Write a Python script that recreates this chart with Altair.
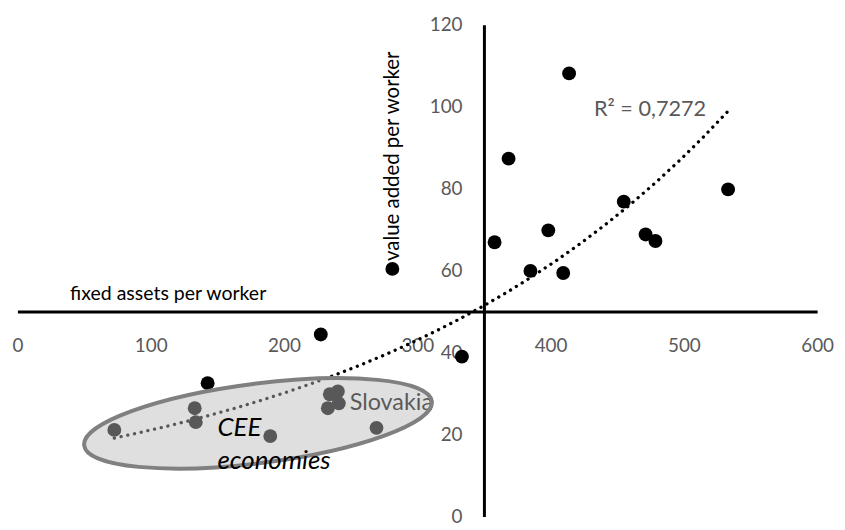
import altair as alt
import pandas as pd

# ---- data ----
# fixed assets per worker (x) and value added per worker (y)
x_vals = [72.7, 133.0, 133.8, 142.7, 189.7, 227.6, 232.9, 234.4, 240.4, 241.1,
          269.4, 281.3, 333.5, 358.0, 368.5, 384.9, 398.3, 409.5, 413.9, 454.9,
          471.3, 478.7, 533.2]
y_vals = [21.1, 26.4, 23.0, 32.5, 19.6, 44.4, 26.4, 29.8, 30.5, 27.6,
          21.6, 60.4, 39.0, 66.9, 87.3, 59.9, 69.8, 59.4, 108.1, 76.8,
          68.8, 67.2, 79.8]
x_ticks = [0, 100, 200, 300, 400, 500, 600]
y_ticks = [0, 20, 40, 60, 80, 100, 120]

# annotations
ann_slovakia = ["Slovakia"]
ann_cee = ["CEE", "economies"]
ann_r2 = ["R² = 0,7272"]

# ---- layout ----
W, H = 805, 495
X_CROSS, Y_CROSS = 350, 50
FONT = "Lato"
GRAY = "#595959"

pts = pd.DataFrame({"x": x_vals, "y": y_vals})

xscale = alt.Scale(domain=[0, 600], nice=False, zero=False)
yscale = alt.Scale(domain=[0, 120], nice=False, zero=False)

xaxis = alt.Axis(
    orient="bottom", offset=-H * Y_CROSS / 120, values=x_ticks,
    domainColor="black", domainWidth=3, ticks=False, tickSize=0, grid=False,
    labelColor=GRAY, labelFontSize=19, labelPadding=25, labelFlush=False,
    labelOverlap=False, labelFont=FONT,
    title="fixed assets per worker", titleX=52.5, titleY=-18,
    titleAlign="left", titleBaseline="middle", titleAngle=0,
    titleFontSize=19.6, titleFontWeight="normal", titleColor="black",
    titleFont=FONT,
)
yaxis = alt.Axis(
    orient="left", offset=-W * X_CROSS / 600, values=y_ticks,
    domainColor="black", domainWidth=3, ticks=False, tickSize=0, grid=False,
    labelColor=GRAY, labelFontSize=19, labelPadding=22, labelFlush=False,
    labelOverlap=False, labelFont=FONT,
    title="value added per worker", titleX=-92, titleY=132,
    titleAlign="center", titleBaseline="middle", titleAngle=270,
    titleFontSize=20.5, titleFontWeight="normal", titleColor="black",
    titleFont=FONT,
)


def X(field="x"):
    return alt.X(f"{field}:Q", scale=xscale, axis=xaxis)


def Y(field="y"):
    return alt.Y(f"{field}:Q", scale=yscale, axis=yaxis)


points = alt.Chart(pts).mark_circle(size=195, color="black", opacity=1).encode(
    x=X(), y=Y()
)

trend = (
    alt.Chart(pts)
    .transform_calculate(ly="log(datum.y)")
    .transform_regression("x", "ly", method="poly", order=1)
    .transform_calculate(yt="exp(datum.ly)")
    .mark_line(color="black", strokeWidth=3.3, strokeDash=[0.1, 6.8], strokeCap="round")
    .encode(x=X(), y=Y("yt"))
)

slovakia = alt.Chart(pd.DataFrame({"x": [249.3], "y": [25.9], "t": ann_slovakia})).mark_text(
    align="left", baseline="alphabetic", fontSize=23.5, font=FONT, color="black"
).encode(x=X(), y=Y(), text="t:N")

# ellipse outline around the CEE economies (custom symbol path)
k = 0.5523
r = 40 / 176.4
ell_path = (
    f"M -1 0 C -1 {-k*r:.4f} {-k:.4f} {-r:.4f} 0 {-r:.4f} "
    f"C {k:.4f} {-r:.4f} 1 {-k*r:.4f} 1 0 "
    f"C 1 {k*r:.4f} {k:.4f} {r:.4f} 0 {r:.4f} "
    f"C {-k:.4f} {r:.4f} -1 {k*r:.4f} -1 0 Z"
)
ellipse = alt.Chart(pd.DataFrame({"x": [180.5], "y": [22.7]})).mark_point(
    shape=ell_path, size=(2 * 176.4) ** 2, angle=352.76, filled=True,
    fill="#bcbcbc", fillOpacity=0.47, stroke="#808080", strokeWidth=4,
    strokeOpacity=1, opacity=1,
).encode(x=X(), y=Y())

cee = alt.Chart(pd.DataFrame({"x": [150.1, 150.1], "y": [19.6, 11.6], "t": ann_cee})).mark_text(
    align="left", baseline="alphabetic", fontSize=26, font=FONT, fontStyle="italic",
    color="black"
).encode(x=X(), y=Y(), text="t:N")

r2 = alt.Chart(pd.DataFrame({"x": [432.6], "y": [97.7], "t": ann_r2})).mark_text(
    align="left", baseline="alphabetic", fontSize=21.8, font=FONT, color=GRAY
).encode(x=X(), y=Y(), text="t:N")

chart = alt.layer(points, trend, slovakia, ellipse, cee, r2).properties(
    width=W, height=H,
    autosize=alt.AutoSizeParams(type="none"),
    padding={"left": 9.5, "top": 15, "right": 20, "bottom": 20},
).configure(
    background="white", font=FONT, view=alt.ViewConfig(stroke=None)
)

chart.save("out.html", embed_options={"renderer": "svg", "actions": False})
